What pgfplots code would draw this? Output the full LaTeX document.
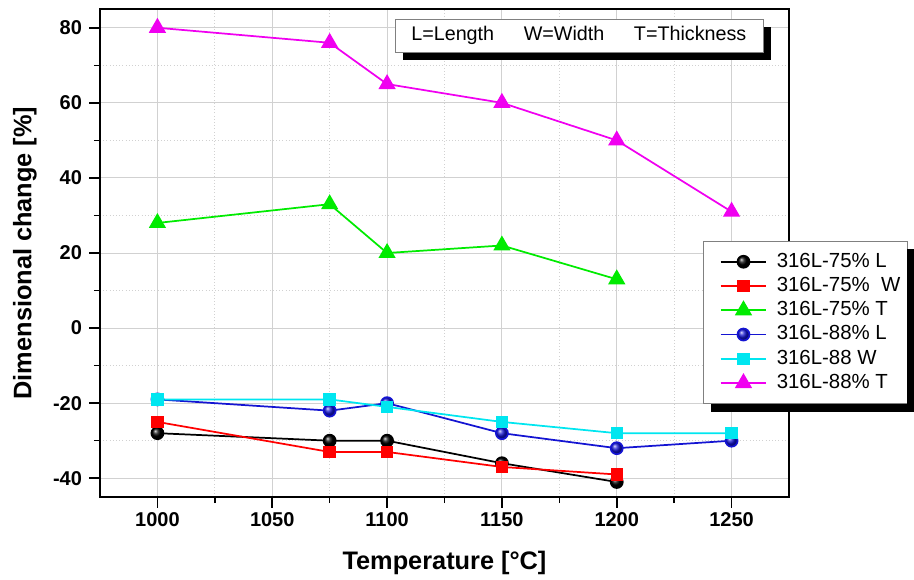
\documentclass[border=0pt]{standalone}
\usepackage{pgfplots}
\pgfplotsset{compat=1.18}
\usepackage{fontspec}
\setmainfont{Liberation Sans}
\usetikzlibrary{shadows}
\definecolor{cgreen}{RGB}{0,235,0}
\definecolor{cblue}{RGB}{20,20,210}
\definecolor{ccyan}{RGB}{0,230,240}
\definecolor{cmag}{RGB}{240,0,240}
\begin{document}
\begin{tikzpicture}
\useasboundingbox (-75pt,-61.5pt) rectangle (610.5pt,372.75pt);
\begin{axis}[
  at={(0,0)}, anchor=south west,
  scale only axis, width=516.75pt, height=366pt,
  xmin=975, xmax=1275, ymin=-45, ymax=85,
  xtick={1000,1050,...,1250}, ytick={-40,-20,...,80},
  minor x tick num=1, minor y tick num=1,
  grid=both,
  major grid style={black!18, line width=0.7pt},
  minor grid style={black!18, dotted, line width=0.8pt},
  tick align=outside, tick pos=left,
  major tick length=8pt, minor tick length=4.5pt,
  axis line style={line width=1.5pt},
  every tick/.style={line width=1.2pt, black},
  ticklabel style={font=\bfseries\fontsize{15}{17}\selectfont},
  yticklabel style={xshift=-2pt},
  /pgf/number format/assume math mode=true,
  /pgf/number format/set thousands separator={},
  xlabel={Temperature [°C]},
  ylabel={Dimensional change [\%]},
  label style={font=\bfseries\fontsize{19}{22}\selectfont},
  x label style={at={(axis description cs:0.5,-0.135)}, anchor=center},
  y label style={at={(axis description cs:-0.109,0.5)}, anchor=center},
  legend style={name=leg, at={(axis description cs:0.875,0.525)}, anchor=north west,
    draw=gray, fill=white, font=\fontsize{15.3}{18}\selectfont,
    inner xsep=4pt, inner ysep=7.5pt, row sep=2.2pt,
    nodes={inner sep=1pt, text height=11pt, text depth=3pt}},
  legend cell align=left,
  legend image code/.code={\path (-0.3cm,0cm) (1.42cm,0cm); \draw (0cm,0cm) -- (1.2cm,0cm); \draw plot coordinates {(0.6cm,0cm)};},
  every axis plot/.append style={line width=1.3pt},
]
\addplot[black, mark=ball, mark size=4.5pt, mark options={ball color=black}] coordinates {
  (1000,-28) (1075,-30) (1100,-30) (1150,-36) (1200,-41)};
\addlegendentry{316L-75\% L}
\addplot[red, mark=square*, mark size=4pt] coordinates {
  (1000,-25) (1075,-33) (1100,-33) (1150,-37) (1200,-39)};
\addlegendentry{316L-75\%\ \ W}
\addplot[cgreen, mark=triangle*, mark size=6.2pt] coordinates {
  (1000,28) (1075,33) (1100,20) (1150,22) (1200,13)};
\addlegendentry{316L-75\% T}
\addplot[cblue, mark=ball, mark size=4.5pt, mark options={ball color=cblue}] coordinates {
  (1000,-19) (1075,-22) (1100,-20) (1150,-28) (1200,-32) (1250,-30)};
\addlegendentry{316L-88\% L}
\addplot[ccyan, mark=square*, mark size=4pt] coordinates {
  (1000,-19) (1075,-19) (1100,-21) (1150,-25) (1200,-28) (1250,-28)};
\addlegendentry{316L-88 W}
\addplot[cmag, mark=triangle*, mark size=6.2pt] coordinates {
  (1000,80) (1075,76) (1100,65) (1150,60) (1200,50) (1250,31)};
\addlegendentry{316L-88\% T}
\node[draw=gray, fill=white, minimum width=276pt, minimum height=24.75pt,
  drop shadow={shadow xshift=6pt, shadow yshift=-6pt, fill=black, opacity=1},
  font=\fontsize{14.8}{16}\selectfont]
  at (axis description cs:0.695,0.9457) {L=Length\hspace{1.5em}W=Width\hspace{1.5em}T=Thickness};
\end{axis}
\fill[black] ([yshift=-6pt]leg.north east) rectangle ([xshift=6pt,yshift=-6pt]leg.south east);
\fill[black] ([xshift=6pt]leg.south west) rectangle ([xshift=6pt,yshift=-6pt]leg.south east);
\end{tikzpicture}
\end{document}
